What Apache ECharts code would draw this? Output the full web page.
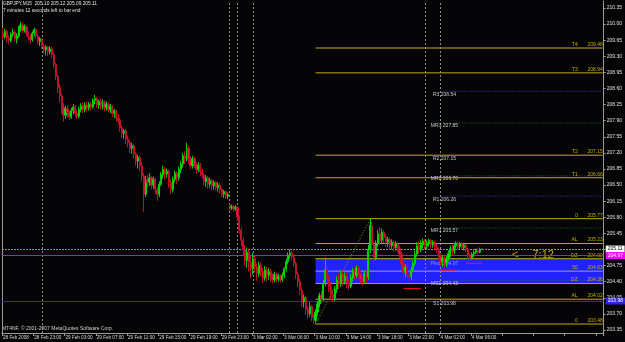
<!DOCTYPE html>
<html><head><meta charset="utf-8">
<script src="https://cdn.jsdelivr.net/npm/echarts@6/dist/echarts.min.js"></script>
<style>html,body{margin:0;padding:0;background:#000;}#c{width:625px;height:342px;}</style>
</head><body><div id="c"></div>
<script>
const symbolInfo = 'GBPJPY,M15  205.10 205.12 205.09 205.11';
const timerInfo = '7 minutes 12 seconds left to bar end';
const copyright = 'MT4NF, \u00a9 2001-2007 MetaQuotes Software Corp.';
const countdown = '<\u2014 7:12';
const xTickLabels = ['28 Feb 2008','28 Feb 23:00','29 Feb 03:00','29 Feb 07:00','29 Feb 11:00','29 Feb 15:00','29 Feb 19:00','29 Feb 23:00','3 Mar 02:00','3 Mar 06:00','3 Mar 10:00','3 Mar 14:00','3 Mar 18:00','3 Mar 22:00','4 Mar 02:00','4 Mar 06:00'];
const yTicks = [203.35,203.70,204.05,204.40,204.75,205.10,205.45,205.80,206.15,206.50,206.85,207.20,207.55,207.90,208.25,208.60,208.95,209.30,209.65,210.00,210.35];
const slotCount = 308;
// [open, close, low, high]
const candles = [
[209.80,209.72,209.66,209.92],[209.72,209.84,209.68,209.90],[209.84,209.70,209.60,209.88],[209.70,209.64,209.56,209.76],[209.64,209.78,209.60,209.82],
[209.78,209.82,209.72,209.90],[209.82,209.68,209.62,209.86],[209.68,209.74,209.58,209.80],[209.74,209.90,209.70,209.96],[209.90,209.98,209.84,210.05],
[209.98,209.86,209.80,210.03],[209.86,209.94,209.82,209.99],[209.94,209.80,209.74,209.97],[209.80,209.72,209.64,209.84],[209.72,209.66,209.58,209.78],
[209.66,209.80,209.62,209.84],[209.80,209.88,209.74,209.92],[209.88,209.74,209.68,209.90],[209.74,209.62,209.56,209.78],[209.62,209.68,209.52,209.72],
[209.68,209.52,209.46,209.70],[209.52,209.44,209.36,209.58],[209.44,209.50,209.32,209.54],[209.50,209.40,209.30,209.53],[209.40,209.46,209.34,209.52],
[209.46,209.34,209.26,209.50],[209.34,209.12,209.04,209.38],[209.12,208.86,208.78,209.16],[208.86,208.62,208.50,208.90],[208.62,208.44,208.30,208.70],
[208.44,208.20,208.06,208.50],[208.20,208.02,207.88,208.28],[208.02,208.16,207.94,208.22],[208.16,208.08,207.98,208.24],[208.08,207.98,207.92,208.12],
[207.98,208.12,207.94,208.18],[208.12,208.20,208.04,208.26],[208.20,208.06,207.98,208.24],[208.06,208.00,207.94,208.14],[208.00,208.14,207.96,208.20],
[208.14,208.22,208.08,208.28],[208.22,208.14,208.06,208.30],[208.14,208.24,208.08,208.30],[208.24,208.18,208.10,208.32],[208.18,208.26,208.12,208.31],
[208.26,208.20,208.12,208.30],[208.20,208.34,208.16,208.38],[208.34,208.38,208.26,208.46],[208.38,208.24,208.18,208.42],[208.24,208.32,208.16,208.36],
[208.32,208.22,208.14,208.38],[208.22,208.30,208.14,208.36],[208.30,208.18,208.10,208.34],[208.18,208.26,208.12,208.32],[208.26,208.14,208.08,208.30],
[208.14,208.20,208.06,208.26],[208.20,208.06,207.98,208.24],[208.06,208.12,207.96,208.16],[208.12,207.96,207.88,208.14],[207.96,207.90,207.82,208.04],
[207.90,207.74,207.66,207.96],[207.74,207.62,207.52,207.80],[207.62,207.68,207.50,207.72],[207.68,207.50,207.40,207.72],[207.50,207.42,207.32,207.58],
[207.42,207.30,207.20,207.48],[207.30,207.36,207.18,207.42],[207.36,207.18,207.08,207.40],[207.18,207.02,206.92,207.22],[207.02,207.10,206.86,207.16],
[207.10,206.92,206.80,207.14],[206.92,206.70,206.58,207.00],[206.70,206.30,205.92,206.76],[206.30,206.62,206.24,206.70],[206.62,206.56,206.44,206.72],
[206.56,206.66,206.48,206.76],[206.66,206.50,206.40,206.70],[206.50,206.62,206.42,206.68],[206.62,206.40,206.30,206.66],[206.40,206.30,206.16,206.46],
[206.30,206.52,206.24,206.58],[206.52,206.72,206.48,206.78],[206.72,206.84,206.64,206.92],[206.84,206.74,206.62,206.90],[206.74,206.80,206.66,206.86],
[206.80,206.56,206.44,206.84],[206.56,206.40,206.30,206.62],[206.40,206.62,206.34,206.68],[206.62,206.76,206.56,206.82],[206.76,206.66,206.52,206.80],
[206.66,206.84,206.60,206.90],[206.84,206.96,206.76,207.02],[206.96,207.14,206.88,207.20],[207.14,207.08,206.96,207.24],[207.08,207.30,207.02,207.42],
[207.30,207.06,206.96,207.36],[207.06,206.92,206.84,207.12],[206.92,207.08,206.86,207.14],[207.08,206.96,206.88,207.12],[206.96,206.84,206.74,207.00],
[206.84,206.94,206.78,207.00],[206.94,206.80,206.70,206.98],[206.80,206.72,206.64,206.86],[206.72,206.58,206.50,206.76],[206.58,206.66,206.46,206.72],
[206.66,206.52,206.42,206.70],[206.52,206.60,206.44,206.66],[206.60,206.48,206.38,206.64],[206.48,206.56,206.40,206.60],[206.56,206.44,206.38,206.58],
[206.44,206.50,206.36,206.56],[206.50,206.40,206.32,206.54],[206.40,206.30,206.24,206.44],[206.30,206.36,206.22,206.40],[206.36,206.26,206.20,206.38],
[206.26,206.30,206.20,206.34],[206.06,206.00,205.94,206.08],[206.00,206.04,205.96,206.08],[206.04,205.98,205.92,206.06],[205.98,206.02,205.94,206.06],
[206.02,205.80,205.72,206.04],[205.80,205.52,205.44,205.84],[205.52,205.30,205.18,205.58],[205.30,205.10,204.98,205.36],[205.10,204.86,204.74,205.20],
[204.86,205.04,204.70,205.14],[205.04,204.82,204.62,205.12],[204.82,204.68,204.48,204.96],[204.68,204.90,204.56,205.02],[204.90,204.72,204.60,204.96],
[204.72,204.58,204.42,204.80],[204.58,204.76,204.50,204.84],[204.76,204.62,204.52,204.82],[204.62,204.48,204.36,204.70],[204.48,204.66,204.42,204.74],
[204.66,204.54,204.40,204.72],[204.54,204.62,204.44,204.70],[204.62,204.50,204.40,204.68],[204.50,204.44,204.36,204.58],[204.44,204.56,204.38,204.62],
[204.56,204.46,204.38,204.60],[204.46,204.52,204.40,204.58],[204.52,204.44,204.38,204.56],[204.44,204.54,204.40,204.60],[204.54,204.68,204.48,204.72],
[204.68,204.84,204.62,204.90],[204.84,204.98,204.78,205.04],[204.98,205.02,204.90,205.10],[205.02,204.94,204.86,205.08],[204.94,204.80,204.72,205.00],
[204.80,204.56,204.46,204.84],[204.56,204.40,204.28,204.62],[204.40,204.22,204.12,204.46],[204.22,203.96,203.86,204.26],[203.96,204.06,203.84,204.12],
[204.06,203.80,203.68,204.10],[203.80,203.70,203.60,203.86],[203.70,203.86,203.64,203.96],[203.86,203.62,203.54,203.90],[203.62,203.56,203.48,203.70],
[203.56,203.74,203.50,203.80],[203.74,203.92,203.66,203.98],[203.92,204.10,203.84,204.16],[204.10,204.02,203.94,204.20],[204.02,204.36,203.98,204.44],
[204.36,204.66,204.30,204.90],[204.66,204.48,204.36,204.74],[204.48,204.30,204.18,204.56],[204.30,204.12,204.02,204.40],[204.12,204.04,203.96,204.22],
[204.04,204.24,203.98,204.30],[204.24,204.44,204.16,204.52],[204.44,204.36,204.24,204.58],[204.36,204.56,204.28,204.64],[204.56,204.40,204.30,204.66],
[204.40,204.52,204.34,204.60],[204.52,204.36,204.26,204.60],[204.36,204.30,204.22,204.44],[204.30,204.48,204.26,204.56],[204.48,204.62,204.40,204.70],
[204.62,204.54,204.44,204.72],[204.54,204.70,204.48,204.76],[204.70,204.58,204.46,204.74],[204.58,204.44,204.36,204.64],[204.44,204.40,204.32,204.52],
[204.40,204.58,204.36,204.64],[204.58,204.50,204.38,204.66],[204.50,205.10,204.44,205.20],[205.10,205.62,205.02,205.77],[205.62,205.20,205.10,205.70],
[205.20,204.92,204.82,205.28],[204.92,205.22,204.86,205.30],[205.22,205.44,205.16,205.52],[205.44,205.30,205.20,205.58],[205.30,205.48,205.22,205.56],
[205.48,205.36,205.24,205.52],[205.36,205.26,205.16,205.44],[205.26,205.32,205.16,205.38],[205.32,205.18,205.10,205.36],[205.18,205.26,205.10,205.32],
[205.26,205.14,205.06,205.30],[205.14,205.22,205.08,205.28],[205.22,205.12,205.04,205.26],[205.12,205.00,204.92,205.18],[205.00,204.78,204.66,205.06],
[204.78,204.60,204.44,204.84],[204.60,204.72,204.50,204.78],[204.72,204.56,204.46,204.78],[204.56,204.50,204.42,204.64],[204.50,204.66,204.44,204.72],
[204.66,204.80,204.60,204.86],[204.80,205.00,204.74,205.08],[205.00,205.18,204.94,205.26],[205.18,205.10,205.00,205.28],[205.10,205.20,205.04,205.30],
[205.20,205.28,205.12,205.34],[205.28,205.18,205.10,205.32],[205.18,205.24,205.10,205.30],[205.24,205.30,205.16,205.34],[205.30,205.20,205.12,205.33],
[205.20,205.26,205.14,205.30],[205.26,205.16,205.08,205.29],[205.16,205.10,205.02,205.22],[205.10,204.96,204.88,205.14],[204.96,204.84,204.74,205.02],
[204.84,204.92,204.72,204.98],[204.92,204.80,204.70,204.96],[204.80,204.90,204.72,204.96],[204.90,205.02,204.84,205.08],[205.02,205.12,204.94,205.18],
[205.12,205.06,204.96,205.20],[205.06,205.18,205.00,205.24],[205.18,205.24,205.12,205.28],[205.24,205.16,205.10,205.28],[205.16,205.22,205.10,205.26],
[205.22,205.14,205.08,205.26],[205.14,205.20,205.08,205.24],[205.20,205.10,205.04,205.22],[205.10,204.96,204.88,205.14],[204.96,204.92,204.84,205.02],
[204.92,205.00,204.88,205.04],[205.00,205.04,204.94,205.08],[205.04,205.08,205.00,205.12],[205.08,205.04,205.00,205.12],[205.04,205.10,205.02,205.14],
[205.10,205.11,205.09,205.12]
];
const fibNames = ['T4','T3','T2','T1','0','AL','DZ','50','DZ','AL','0'];
const fibValues = [209.48,208.94,207.15,206.66,205.77,205.23,204.90,204.63,204.36,204.02,203.48];
const pivotNames = ['R3','MR3','R2','MR2','R1','MR1','Pivot','MS1','S1'];
const pivotValues = [208.54,207.85,207.15,206.70,206.26,205.57,204.97,204.43,203.98];
const dayLines = [20,116,120,128,216,224];
const fibStartBar = 160, pivotStartBar = 224;
const zoneTop = 204.90, zoneBottom = 204.36;
const swingLow = [160, 203.48], swingHigh = [188, 205.77];
const redSegments = [[205,214,204.25],[224,232,204.65],[237,245,204.80]];
const bidPrice = 205.11, pivotPrice = 204.97, supportPrice = 203.98;

const FONT = 'Liberation Sans';
const GOLD = '#c2ad00';
const lastBar = slotCount - 1;
const cats = Array.from({length: slotCount}, (_, i) => String(i));

const pivotColor = {R3:'#5a30e0',MR3:'#1f7a1f',R2:'#5a30e0',MR2:'#1f7a1f',R1:'#5a30e0',MR1:'#1f7a1f',Pivot:'#5a30e0',MS1:'#1f7a1f',S1:'#e01010'};

function segment(name, x0, x1, v, color, type, z, label) {
  const s = {type:'line', name, silent:true, z, symbol:'none', animation:false,
    data:[[x0, v],[x1, v]], lineStyle:{color, width:1, type, opacity:1}, emphasis:{disabled:true}};
  if (label) s.endLabel = label;
  return s;
}

const series = [];
series.push({type:'line', data:[], z:1, silent:true,
  markArea:{silent:true, itemStyle:{color:'#2222ff', opacity:1},
    data:[[{xAxis:fibStartBar, yAxis:zoneTop},{xAxis:lastBar, yAxis:zoneBottom}]]},
  markLine:{silent:true, symbol:['none','none'], animation:false, data:[
    ...dayLines.map(b => ({xAxis:b, lineStyle:{color:'#8c8c8c', type:[2,2], width:1}, label:{show:false}})),
    {yAxis: bidPrice, lineStyle:{color:'#8c8c8c', type:[2,1], width:1},
      label:{show:true, position:'end', distance:2, formatter: bidPrice.toFixed(2), color:'#000', backgroundColor:'#ffffff', padding:[1,2], fontSize:5, fontFamily:FONT}},
    {yAxis: pivotPrice, lineStyle:{color:'#b01cb0', type:'solid', width:1},
      label:{show:true, position:'end', distance:2, formatter: pivotPrice.toFixed(2), color:'#fff', backgroundColor:'#ff00ff', padding:[1,2], fontSize:5, fontFamily:FONT}},
    {yAxis: supportPrice, lineStyle:{color:'#3c2c8c', type:'solid', width:1},
      label:{show:true, position:'end', distance:2, formatter: supportPrice.toFixed(2), color:'#fff', backgroundColor:'#3020e0', padding:[1,2], fontSize:5, fontFamily:FONT}}
  ]},
  markPoint:{silent:true, symbol:'circle', symbolSize:0,
    label:{show:true, position:'inside', offset:[0,3], fontSize:5, fontFamily:FONT, formatter:p => p.value},
    data: pivotValues.map((v, k) => ({coord:[pivotStartBar + 2, v], value: pivotNames[k] + ' ' + v.toFixed(2),
      label:{color: pivotNames[k]==='Pivot' ? '#9090ff' : '#c8c8c8', offset: pivotNames[k]==='Pivot' ? [0,8] : [0,3]}}))}
});
pivotValues.forEach((v, k) => {
  const n = pivotNames[k];
  if (n === 'Pivot' || n === 'R2') return;
  series.push(segment('p'+n, pivotStartBar, lastBar, v, pivotColor[n], [1,2], 2));
});
fibValues.forEach((v, k) => {
  series.push(segment('f'+k, fibStartBar, lastBar, v, fibNames[k]==='50' ? '#9a9ae8' : GOLD, 'solid', 3,
    {show:true, formatter: fibNames[k] + '       ' + v.toFixed(2), color: GOLD, fontSize:5, fontFamily:FONT,
     align:'right', verticalAlign:'bottom', distance:0, offset:[0,-1]}));
});
redSegments.forEach((s, k) => series.push(segment('r'+k, s[0], s[1], s[2], '#ff1010', 'solid', 4)));
series.push({type:'line', silent:true, z:4, symbol:'none', data:[swingLow, swingHigh], lineStyle:{color:'#a09000', type:[1,2], width:1}});
series.push({type:'candlestick', data:candles, z:6, barWidth:1.7,
  itemStyle:{color:'#00ee00', color0:'#e8174f', borderColor:'#00d000', borderColor0:'#c0102a', borderWidth:1}});

const chart = echarts.init(document.getElementById('c'), null, {renderer:'canvas'});
chart.setOption({
  backgroundColor:'#050508',
  animation:false,
  textStyle:{fontFamily:FONT},
  grid:{left:1, right:19, top:1, bottom:9},
  xAxis:{type:'category', data:cats, boundaryGap:true,
    axisLine:{lineStyle:{color:'#9a9a9a'}},
    axisTick:{show:true, interval:15, length:3, lineStyle:{color:'#9a9a9a'}},
    axisLabel:{interval:15, margin:2, align:'left', color:'#d8d8d8', fontSize:4.6, fontFamily:FONT,
      formatter:(v, i) => xTickLabels[Math.round(i/16)] || ''},
    splitLine:{show:false}},
  yAxis:[{type:'value', position:'right', min:203.285, max:210.502, scale:true,
    axisLine:{show:true, lineStyle:{color:'#9a9a9a'}},
    axisTick:{show:true, length:2, customValues: yTicks, lineStyle:{color:'#9a9a9a'}},
    axisLabel:{show:true, margin:3, customValues: yTicks, color:'#e0e0e0', fontSize:5, fontFamily:FONT, formatter:v => v.toFixed(2)},
    splitLine:{show:false}},
   {type:'value', position:'left', min:203.285, max:210.502,
    axisLine:{show:true, lineStyle:{color:'#9a9a9a'}}, axisTick:{show:false}, axisLabel:{show:false}, splitLine:{show:false}}],
  graphic:[
    {type:'text', left:3, top:1, style:{text:symbolInfo, fill:'#e0e0e0', font:'4.8px ' + FONT}},
    {type:'text', left:3, top:8, style:{text:timerInfo, fill:'#e0e0e0', font:'4.8px ' + FONT}},
    {type:'text', left:2, top:326, style:{text:copyright, fill:'#d0d0d0', font:'5px ' + FONT}},
    {type:'text', left:512, top:249, style:{text:countdown, fill:GOLD, font:'11px ' + FONT}}
  ],
  series
});
</script>
</body></html>
